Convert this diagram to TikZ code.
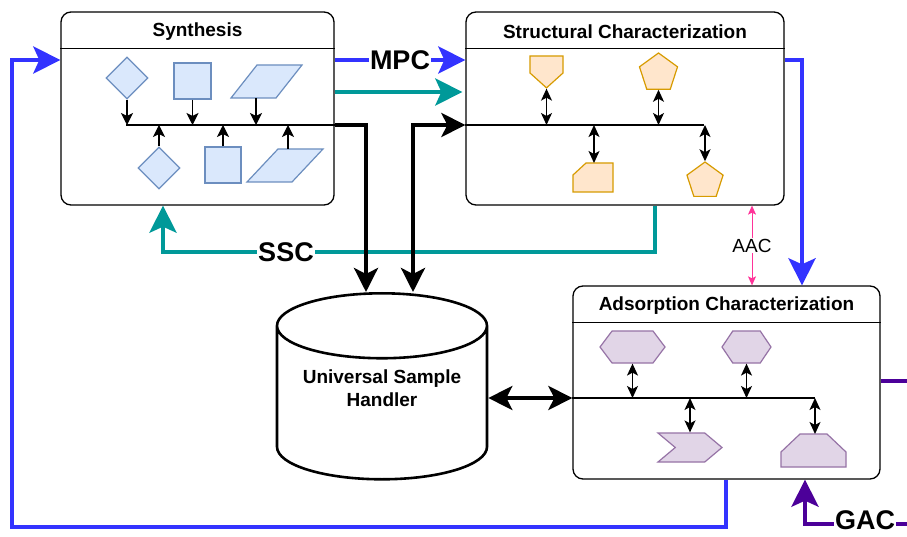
\documentclass[tikz,border=0pt]{standalone}
\usepackage{fontspec}
\setmainfont{Liberation Sans}
\usetikzlibrary{arrows.meta,positioning,calc,shapes.geometric,shapes.symbols}

\definecolor{flowblue}{HTML}{3333FF}
\definecolor{flowteal}{HTML}{009999}
\definecolor{flowpurple}{HTML}{4C0099}
\definecolor{flowpink}{HTML}{FF3399}
\definecolor{synfill}{HTML}{DAE8FC}
\definecolor{synline}{HTML}{6C8EBF}
\definecolor{strfill}{HTML}{FFE6CC}
\definecolor{strline}{HTML}{D79B00}
\definecolor{adsfill}{HTML}{E1D5E7}
\definecolor{adsline}{HTML}{9673A6}

\tikzset{
  panel/.style={draw, line width=1.3pt, rounded corners=10pt, inner sep=0pt},
  divider/.style={line width=1.3pt},
  paneltitle/.style={font=\fontsize{19}{22}\selectfont\bfseries},
  flowlabel/.style={font=\fontsize{27}{30}\selectfont\bfseries, fill=white, inner sep=1pt},
  smalllabel/.style={font=\fontsize{19}{22}\selectfont, fill=white, inner sep=1pt},
  synshape/.style={draw=synline, fill=synfill, line width=1.2pt, inner sep=0pt},
  strshape/.style={draw=strline, fill=strfill, line width=1.2pt, inner sep=0pt},
  adsshape/.style={draw=adsline, fill=adsfill, line width=1.2pt, inner sep=0pt},
  store/.style={cylinder, shape border rotate=90, aspect=0.41, draw, line width=2.6pt,
    inner sep=0pt, font=\fontsize{19}{23}\selectfont\bfseries},
  storetext/.style={align=center, font=\fontsize{19}{23}\selectfont\bfseries},
  bus/.style={line width=1.3pt},
  onearrow/.style={line width=1.3pt, -{Stealth[length=12pt, width=12pt, inset=3pt]}},
  twoarrow/.style={line width=1.3pt, {Stealth[length=12pt, width=11pt, inset=3pt]}-{Stealth[length=12pt, width=11pt, inset=3pt]}},
  blackarrow/.style={line width=4pt, -{Stealth[length=24pt, width=24pt, inset=6pt]}},
  blackboth/.style={line width=4pt, {Stealth[length=24pt, width=24pt, inset=6pt]}-{Stealth[length=24pt, width=24pt, inset=6pt]}},
  colourarrow/.style={line width=4.5pt, draw=#1, -{Stealth[length=27pt, width=27pt, inset=6pt]}},
  pinkarrow/.style={line width=1pt, draw=flowpink, {Stealth[length=9pt, width=8pt, inset=2pt]}-{Stealth[length=9pt, width=8pt, inset=2pt]}}
}

\begin{document}
\begin{tikzpicture}[x=1pt, y=-1pt]
\useasboundingbox (0,0) rectangle (907,537);
\clip (0,0) rectangle (907,537);
\fill[white] (0,0) rectangle (907,537);

\node[panel, minimum width=273pt, minimum height=193pt] (syn) at (197.5,108.5) {};
\node[paneltitle] (syntitle) at ([yshift=-20pt]syn.north) {Synthesis};
\draw[divider] ([yshift=-37pt]syn.north west) -- ([yshift=-37pt]syn.north east);

\node[panel, minimum width=318pt, minimum height=193pt] (str) at (625,108.5) {};
\node[paneltitle] (strtitle) at ([yshift=-20pt]str.north) {Structural Characterization};
\draw[divider] ([yshift=-37pt]str.north west) -- ([yshift=-37pt]str.north east);

\node[panel, minimum width=307pt, minimum height=193pt] (ads) at (726.5,382.5) {};
\node[paneltitle] (adstitle) at ([yshift=-20pt]ads.north) {Adsorption Characterization};
\draw[divider] ([yshift=-37pt]ads.north west) -- ([yshift=-37pt]ads.north east);

\node[store, anchor=north, minimum width=210pt, minimum height=186pt] (ush) at (382,292) {\phantom{Universal Sample}};
\node[storetext] (ushtext) at (382,388.5) {Universal Sample\\Handler};

\coordinate (synbus) at (126,125);
\coordinate (strbus) at (704,125);
\coordinate (adsbus) at (815,398);

\node[synshape, diamond, minimum width=42pt, minimum height=42pt] (sd1) at (127,78) {};
\node[synshape, rectangle, minimum width=37pt, minimum height=36pt] (sr1) at (192.5,81) {};
\draw[synshape] (231,98) -- (257,65) -- (302,65) -- (276,98) -- cycle;
\coordinate (sp1) at (256,98);
\node[synshape, diamond, minimum width=42pt, minimum height=42pt] (sd2) at (159,168) {};
\node[synshape, rectangle, minimum width=36pt, minimum height=36pt] (sr2) at (223,165) {};
\draw[synshape] (247,182) -- (278,149) -- (323,149) -- (292,182) -- cycle;
\coordinate (sp2) at (288,149);

\draw[bus] (synbus) -- (synbus -| syn.east);
\draw[onearrow] (sd1.south) -- (sd1.south |- synbus);
\draw[onearrow] (sr1.south) -- (sr1.south |- synbus);
\draw[onearrow] (sp1) -- (sp1 |- synbus);
\draw[onearrow] (sd2.north) -- (sd2.north |- synbus);
\draw[onearrow] (sr2.north) -- (sr2.north |- synbus);
\draw[onearrow] (sp2) -- (sp2 |- synbus);

\node[strshape, signal, signal to=south, signal pointer angle=96, minimum width=33pt, minimum height=17pt] (so1) at (546.5,64.5) {};
\node[strshape, regular polygon, regular polygon sides=5, minimum size=40pt] (sg1) at (658.5,73) {};
\draw[strshape] (573,175) -- (586,163) -- (613,163) -- (613,192) -- (573,192) -- cycle;
\coordinate (sc1) at (594,163);
\node[strshape, regular polygon, regular polygon sides=5, minimum size=38pt] (sg2) at (705,181) {};

\draw[bus] (str.west |- strbus) -- (strbus);
\draw[twoarrow] (so1.south) -- (so1.south |- strbus);
\draw[twoarrow] (sg1.south) -- (sg1.south |- strbus);
\draw[twoarrow] (sc1) -- (sc1 |- strbus);
\draw[twoarrow] (sg2.north) -- (sg2.north |- strbus);

\node[adsshape, signal, signal to=east and west, signal pointer angle=106, minimum width=65pt, minimum height=32pt] (ah1) at (632.5,347) {};
\node[adsshape, signal, signal to=east and west, signal pointer angle=112, minimum width=49pt, minimum height=32pt] (ah2) at (746.5,347) {};
\node[adsshape, signal, signal from=west, signal to=east, signal pointer angle=80, minimum width=64pt, minimum height=29pt] (ac1) at (690,447.5) {};
\draw[adsshape] (781,452) -- (800,434) -- (827,434) -- (846,452) -- (846,467) -- (781,467) -- cycle;
\coordinate (al1) at (815,434);

\draw[bus] (ads.west |- adsbus) -- (adsbus);
\draw[twoarrow] (ah1.south) -- (ah1.south |- adsbus);
\draw[twoarrow] (ah2.south) -- (ah2.south |- adsbus);
\draw[twoarrow] (ac1.north) -- (ac1.north |- adsbus);
\draw[twoarrow] (al1) -- (al1 |- adsbus);

\draw[colourarrow=flowblue] (syn.east |- 0,60) -- node[flowlabel] {MPC} (str.west |- 0,60);
\draw[colourarrow=flowteal] (syn.east |- 0,92) -- ([xshift=-3pt]str.west |- 0,92);
\draw[colourarrow=flowblue] (str.east |- 0,60) -| (ads.north -| 802,0);
\draw[colourarrow=flowteal] (str.south -| 655,0) -- (655,252) -- node[flowlabel, pos=0.75] {SSC} (163,252) -- (syn.south -| 163,0);
\draw[colourarrow=flowblue] (ads.south -| 726,0) |- (12,527) |- (syn.west |- 0,60);
\draw[colourarrow=flowpurple] (ads.east |- 0,381) -- (930,381) -- (930,524) -- node[flowlabel, pos=0.52, yshift=4pt] {GAC} (805,524) -- (ads.south -| 805,0);
\draw[pinkarrow] (str.south -| 752,0) -- node[smalllabel] {AAC} (ads.north -| 752,0);

\draw[blackarrow] (synbus -| syn.east) -| (ush.north -| 366,0);
\draw[blackboth] (ush.north -| 413,0) |- (str.west |- strbus);
\draw[blackboth] (ush.east |- adsbus) -- (ads.west |- adsbus);
\end{tikzpicture}
\end{document}
